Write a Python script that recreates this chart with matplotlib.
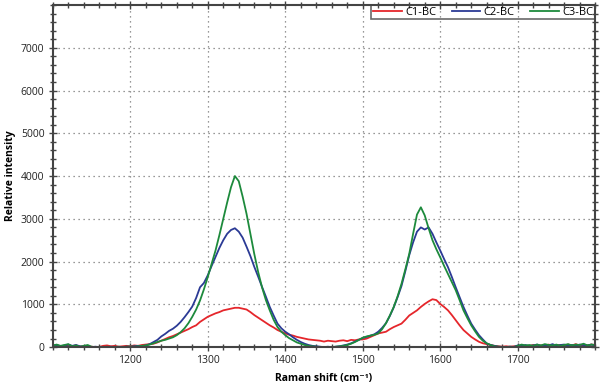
import numpy as np
import matplotlib
matplotlib.use("Agg")
import matplotlib.pyplot as plt
from matplotlib.ticker import MultipleLocator


# Raman shift axis, 5 cm-1 steps from 1100 to 1800
shift = np.arange(1100, 1801, 5)

c1_bc = [
    20, 40, 10, 30, 50, 20, 40, 10, 20, 0, 10, 0, 5, 30, 40, 20, 30, 10, 20, 30,
    20, 40, 30, 50, 60, 70, 80, 110, 150, 190, 230, 260, 300, 340, 380, 420, 470, 510, 590, 650,
    710, 750, 790, 820, 860, 880, 900, 920, 920, 900, 880, 820, 750, 690, 630, 570, 510, 460, 400, 360,
    320, 290, 270, 240, 220, 200, 180, 170, 160, 150, 130, 150, 140, 130, 150, 160, 140, 170, 160, 180,
    180, 200, 240, 280, 320, 340, 360, 420, 470, 510, 550, 640, 740, 800, 860, 940, 1010, 1070, 1120, 1100,
    1010, 940, 860, 750, 630, 510, 400, 320, 240, 180, 125, 90, 70, 50, 30, 20, 10, 20, 10, 20,
    20, 40, 10, 30, 50, 20, 40, 30, 60, 20, 40, 50, 30, 60, 40, 70, 30, 50, 40, 60,
    50,
]

c2_bc = [
    30, 50, 20, 40, 60, 30, 50, 20, 10, 30, 0, 10, 0, 5, 0, 10, 0, 5, 0, 10,
    10, 20, 30, 20, 40, 70, 120, 170, 250, 310, 380, 430, 500, 590, 700, 820, 950, 1150, 1400, 1500,
    1680, 1900, 2110, 2320, 2500, 2650, 2740, 2780, 2700, 2560, 2350, 2130, 1880, 1650, 1410, 1180, 940, 740, 550, 440,
    360, 300, 230, 170, 120, 80, 50, 30, 20, 10, 0, 10, 0, 10, 20, 40, 60, 90, 130, 170,
    215, 240, 270, 300, 360, 450, 560, 730, 930, 1170, 1430, 1780, 2150, 2450, 2700, 2800, 2750, 2800, 2650, 2450,
    2260, 2060, 1870, 1640, 1400, 1170, 940, 740, 550, 410, 280, 180, 85, 50, 30, 10, 5, 0, 10, 5,
    40, 30, 50, 20, 40, 60, 30, 50, 40, 70, 30, 50, 60, 40, 50, 30, 60, 50, 40, 60,
    40,
]

c3_bc = [
    40, 60, 30, 50, 70, 20, 40, 10, 30, 50, 10, 0, 5, 0, 10, 0, 5, 10, 0, 10,
    15, 10, 20, 30, 40, 60, 90, 120, 150, 170, 200, 230, 280, 350, 440, 560, 710, 880, 1090, 1350,
    1640, 1950, 2260, 2620, 3000, 3380, 3740, 4000, 3880, 3520, 3120, 2650, 2180, 1760, 1400, 1100, 860, 640, 470, 360,
    280, 210, 160, 110, 80, 50, 30, 20, 10, 5, 0, 5, 0, 10, 20, 30, 50, 80, 120, 170,
    220, 250, 270, 290, 320, 420, 560, 740, 940, 1190, 1480, 1820, 2180, 2650, 3100, 3270, 3080, 2780, 2500, 2290,
    2100, 1900, 1710, 1520, 1330, 1100, 860, 680, 510, 370, 240, 150, 90, 50, 20, 10, 5, 0, 10, 0,
    30, 60, 40, 50, 30, 60, 40, 70, 50, 40, 60, 30, 50, 70, 40, 60, 50, 80, 40, 60,
    50,
]

labels = ["C1-BC", "C2-BC", "C3-BC"]
colors = ["#e5262b", "#2b3a95", "#1d8a3c"]

plt.rcParams['font.family'] = ['Open Sans', 'DejaVu Sans']

fig = plt.figure(figsize=(6, 3.84), dpi=100)
ax = fig.add_axes([0.088, 0.096, 0.904, 0.891])

for series, lab, col in zip([c1_bc, c2_bc, c3_bc], labels, colors):
    ax.plot(shift, series, color=col, linewidth=1.3, label=lab)

ax.set_xlim(1100, 1800)
ax.set_ylim(0, 8000)
ax.set_xticks([1200, 1300, 1400, 1500, 1600, 1700])
ax.set_yticks(range(0, 8000, 1000))
ax.xaxis.set_minor_locator(MultipleLocator(20))
ax.yaxis.set_minor_locator(MultipleLocator(200))

ax.grid(True, which='major', linestyle=(0, (1, 3)), color='#777777', linewidth=0.9)

spine_col = '#444444'
for s in ax.spines.values():
    s.set_color(spine_col)
    s.set_linewidth(1.5)

ax.tick_params(which='both', direction='inout', top=True, right=True,
               color=spine_col, width=1.0, labelsize=7.5, labelcolor='#222222')
ax.tick_params(which='major', length=6, pad=3)
ax.tick_params(which='minor', length=4)

ax.set_xlabel("Raman shift (cm\u207b\u00b9)", fontsize=7.5, fontweight='bold')
ax.set_ylabel("Relative intensity", fontsize=7.5, fontweight='bold')
ax.yaxis.set_label_coords(-0.068, 0.5)
ax.xaxis.set_label_coords(0.5, -0.075)

leg = ax.legend(loc='upper right', ncol=3, fontsize=8, frameon=True, fancybox=False,
                borderaxespad=0, handlelength=2.6, columnspacing=1.4,
                borderpad=0.15, handletextpad=0.3)
leg.get_frame().set_edgecolor(spine_col)
leg.get_frame().set_linewidth(1.2)
leg.get_frame().set_facecolor('none')

fig.savefig("out.png", dpi=100)
